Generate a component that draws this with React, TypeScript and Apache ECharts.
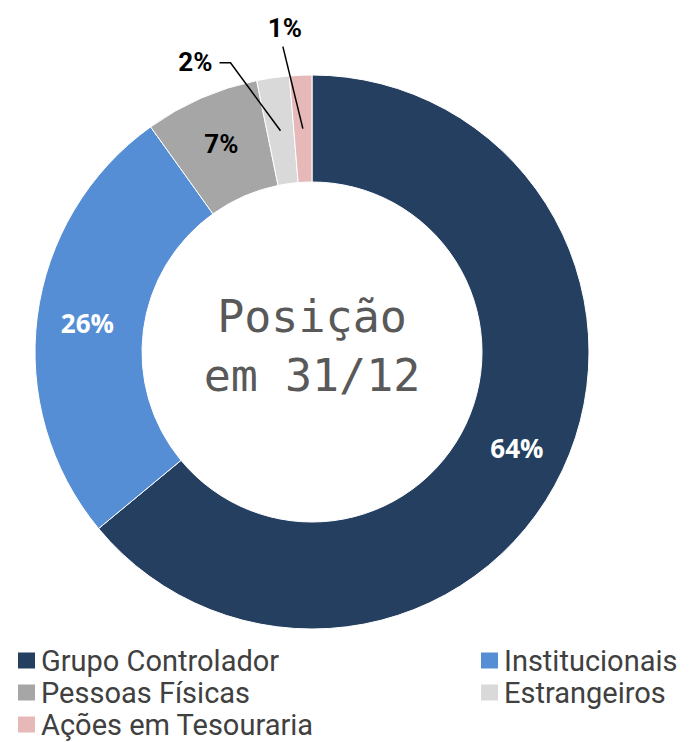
import React, { useEffect, useRef } from "react";
import * as echarts from "echarts";

const categories = ["Grupo Controlador", "Institucionais", "Pessoas Físicas", "Estrangeiros", "Ações em Tesouraria"];
const values = [64.0, 26.1, 6.7, 1.9, 1.3];
const colors = ["#243F60", "#558ED5", "#A6A6A6", "#D9D9D9", "#E6B9B8"];
const centerText = ["Posição", "em 31/12"];
const leftLegend = ["Grupo Controlador", "Pessoas Físicas", "Ações em Tesouraria"];
const rightLegend = ["Institucionais", "Estrangeiros"];

const CX = 312;
const CY = 352;
const R_IN = 170;
const R_OUT = 277;

export default function App() {
  const ref = useRef<HTMLDivElement>(null);
  useEffect(() => {
    if (!ref.current) return;
    const chart = echarts.init(ref.current, null, { renderer: "svg" });
    const total = values.reduce((a, b) => a + b, 0);
    const midPoint = (i: number) => {
      let before = 0;
      for (let k = 0; k < i; k++) before += values[k];
      const f = (before + values[i] / 2) / total;
      const th = f * Math.PI * 2;
      const r = (R_IN + R_OUT) / 2;
      return [CX + r * Math.sin(th), CY - r * Math.cos(th)];
    };
    const insideColor = ["#ffffff", "#ffffff", "#000000"];
    const insideFont = ["Open Sans", "Open Sans", "Roboto"];
    const data = categories.map((name, i) => {
      const outside = i >= 3;
      return {
        name,
        value: values[i],
        itemStyle: { color: colors[i] },
        label: outside
          ? { position: "outside", color: "#000", fontFamily: "Roboto", fontWeight: "bold", fontSize: 26 }
          : { position: "inside", color: insideColor[i], fontFamily: insideFont[i], fontWeight: "bold", fontSize: 26 },
        labelLine: { show: false },
      };
    });
    const [ax, ay] = midPoint(3);
    const [bx, by] = midPoint(4);
    const lineStyle = { stroke: "#000", lineWidth: 1.5, fill: "none" };
    const legendText = { fontFamily: "Roboto", fontSize: 29, color: "#404040", lineHeight: 28 };
    const legendBase = {
      orient: "vertical",
      top: 646,
      height: 96,
      padding: 0,
      icon: "rect",
      itemWidth: 19,
      itemHeight: 18,
      itemGap: 3,
      textStyle: legendText,
      selectedMode: false,
    };
    chart.setOption({
      animation: false,
      backgroundColor: "#ffffff",
      legend: [
        { ...legendBase, data: leftLegend, left: 16 },
        { ...legendBase, data: rightLegend, left: 479 },
      ],
      graphic: [
        {
          type: "text",
          x: CX,
          y: 345.5,
          style: {
            text: centerText.join("\n"),
            align: "center",
            verticalAlign: "middle",
            fontFamily: "DejaVu Sans Mono",
            fontSize: 45,
            lineHeight: 59,
            fill: "#595959",
          },
        },
        {
          type: "polyline",
          z: 100,
          shape: { points: [[ax, ay], [ax - 50, ay - 68], [ax - 61, ay - 68]] },
          style: lineStyle,
        },
        {
          type: "polyline",
          z: 100,
          shape: { points: [[bx, by], [bx - 20, by - 82]] },
          style: lineStyle,
        },
      ],
      series: [
        {
          type: "pie",
          center: [CX, CY],
          radius: [R_IN, R_OUT],
          startAngle: 90,
          clockwise: true,
          avoidLabelOverlap: false,
          itemStyle: { borderColor: "#ffffff", borderWidth: 1 },
          label: {
            show: true,
            formatter: (p: any) => Math.round(p.value) + "%",
          },
          emphasis: { disabled: true },
          labelLayout: (p: any) => {
            if (p.dataIndex === 3) {
              return { x: ax - 68, y: ay - 69, align: "right", verticalAlign: "middle" };
            }
            if (p.dataIndex === 4) {
              return { x: bx - 18, y: by - 101, align: "center", verticalAlign: "middle" };
            }
            return {};
          },
          data,
        },
      ],
    });
    return () => chart.dispose();
  }, []);
  return (
    <div
      ref={ref}
      style={{ position: "fixed", left: 0, top: 0, width: 692, height: 742 }}
    />
  );
}
